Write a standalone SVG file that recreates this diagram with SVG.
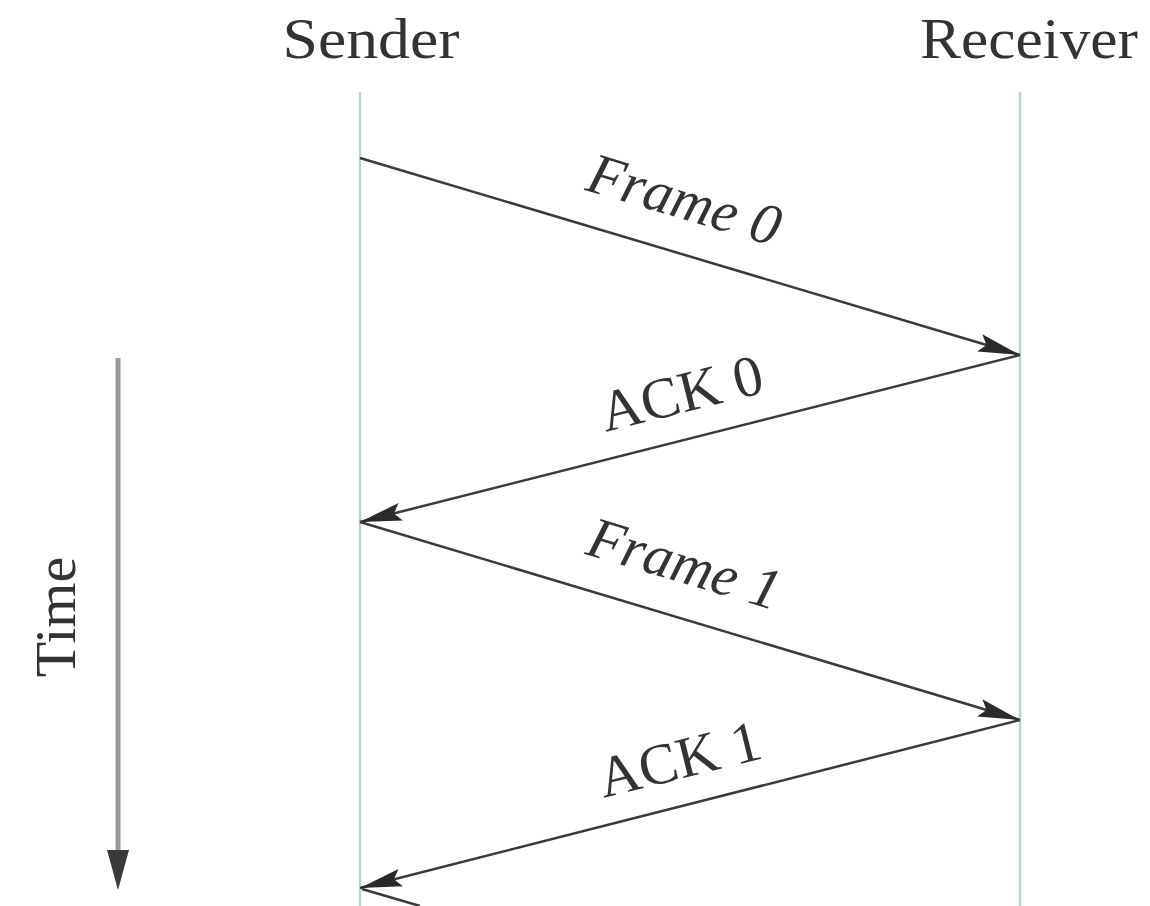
<svg xmlns="http://www.w3.org/2000/svg" width="1150" height="906" viewBox="0 0 1150 906">
<defs>
<style>
.t{font-family:"Liberation Serif","Times New Roman",serif;font-size:58px;fill:#333333}
.life{stroke:#bcd3d3;stroke-width:2.5;fill:none}
.msg{stroke:#3a3a3a;stroke-width:2.5;fill:none;marker-end:url(#ah)}
</style>
<marker id="ah" markerUnits="userSpaceOnUse" markerWidth="44" markerHeight="24" viewBox="0 0 44 24" refX="42" refY="12" orient="auto">
<path d="M0,3 L42,12 L0,21 L7,12 Z" fill="#2a2a2a"/>
</marker>
</defs>
<rect width="1150" height="906" fill="#ffffff"/>
<g id="sender">
<text class="t" x="371" y="58" text-anchor="middle" textLength="177" lengthAdjust="spacingAndGlyphs">Sender</text>
<line class="life" x1="360" y1="92" x2="360" y2="906"/>
</g>
<g id="receiver">
<text class="t" x="1029" y="58" text-anchor="middle" textLength="218" lengthAdjust="spacingAndGlyphs">Receiver</text>
<line class="life" x1="1020" y1="92" x2="1020" y2="906"/>
</g>
<g id="time">
<line x1="118" y1="358" x2="118" y2="850" stroke="#9a9a9a" stroke-width="5"/>
<path d="M107,850 L129,850 L118,890 Z" fill="#3a3a3a"/>
<text class="t" transform="translate(75,617) rotate(-90)" text-anchor="middle">Time</text>
</g>
<g id="connectors">
<line class="msg" x1="360" y1="158" x2="1020" y2="355"/>
<line class="msg" x1="1020" y1="355" x2="360" y2="522"/>
<line class="msg" x1="360" y1="522" x2="1020" y2="720"/>
<line class="msg" x1="1020" y1="720" x2="360" y2="888"/>
<line x1="362" y1="889" x2="420" y2="906" stroke="#3a3a3a" stroke-width="2.5"/>
</g>
<g id="labels">
<text class="t" transform="translate(679,218) rotate(16.6)" text-anchor="middle" font-style="italic">Frame 0</text>
<text class="t" transform="translate(686,412) rotate(-14)" text-anchor="middle">ACK 0</text>
<text class="t" transform="translate(679,582) rotate(16.6)" text-anchor="middle" font-style="italic">Frame 1</text>
<text class="t" transform="translate(684,778) rotate(-14)" text-anchor="middle">ACK 1</text>
</g>
</svg>
